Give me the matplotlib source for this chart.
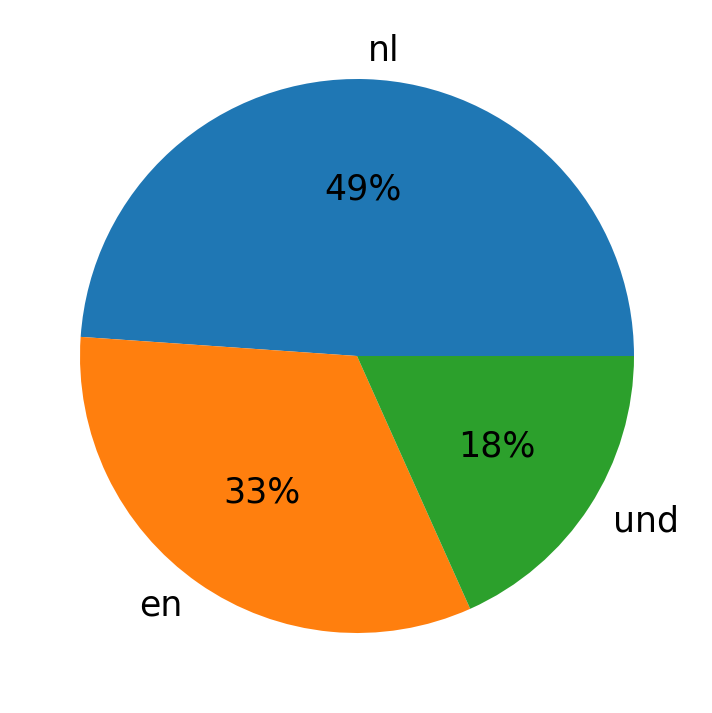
import matplotlib
matplotlib.use("Agg")
import matplotlib.pyplot as plt

labels = ["nl", "en", "und"]
values = [48.9, 32.8, 18.3]
colors = ["#1f77b4", "#ff7f0e", "#2ca02c"]

fig = plt.figure(figsize=(7.12, 7.13), dpi=100)
R = 277
ax = fig.add_axes([(357 - R) / 712, 1 - (356 + R) / 713, 2 * R / 712, 2 * R / 713])
ax.pie(values, labels=labels, colors=colors, autopct="%1.0f%%",
       startangle=0, textprops={"fontsize": 25})
ax.set_xlim(-1, 1)
ax.set_ylim(-1, 1)
ax.set_aspect("equal")
fig.savefig("out.png", dpi=100)
